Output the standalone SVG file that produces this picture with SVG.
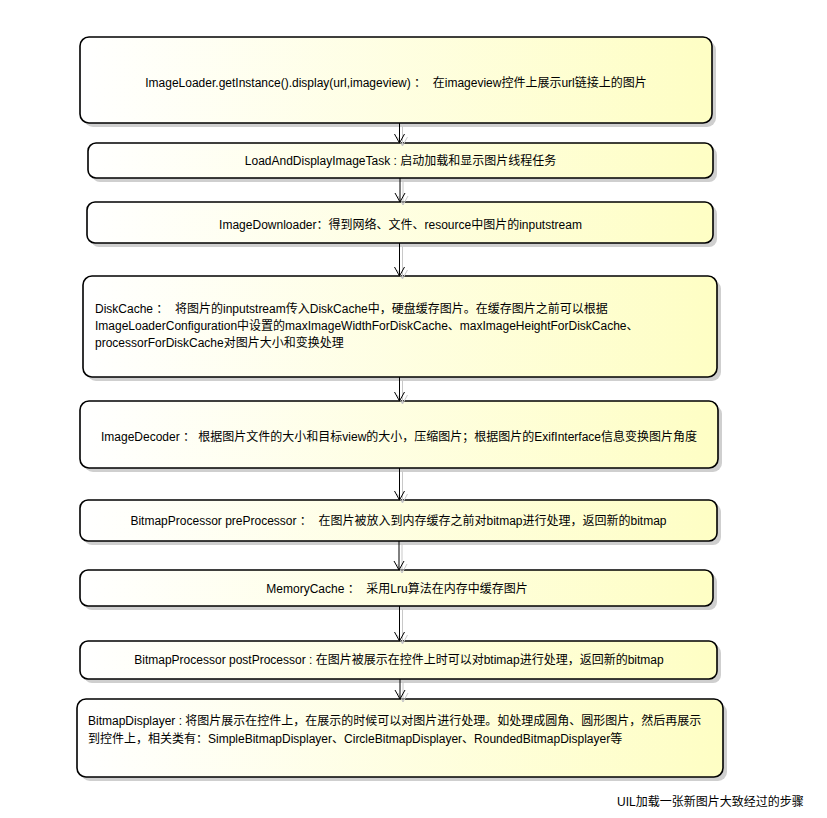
<svg xmlns="http://www.w3.org/2000/svg" width="827" height="818" viewBox="0 0 827 818">
<style>
.box{fill:url(#g);stroke:#000;stroke-width:1.6}
.sh{fill:#cfcfcf}
text{font-family:"Liberation Sans","Noto Sans CJK SC",sans-serif;font-size:12px;fill:#000}
.c{text-anchor:middle}
.ln{stroke:#000;stroke-width:1;fill:none}
.ls{stroke:#c8c8c8;stroke-width:1;fill:none}
</style>
<defs>
<linearGradient id="g" x1="0" y1="0" x2="1" y2="0">
<stop offset="0" stop-color="#ffffff"/>
<stop offset="1" stop-color="#fefec4"/>
</linearGradient>
</defs>
<rect width="827" height="818" fill="#fff"/>
<g id="n1"><rect class="sh" x="84" y="41" width="632" height="86" rx="9"/><rect class="box" x="80" y="37" width="632" height="86" rx="9"/><text class="c" x="396" y="87" xml:space="preserve">ImageLoader.getInstance().display(url,imageview) ：  在imageview控件上展示url链接上的图片</text></g>
<g id="n2"><rect class="sh" x="92" y="147" width="625" height="35" rx="8"/><rect class="box" x="88" y="143" width="625" height="35" rx="8"/><text class="c" x="400.5" y="165">LoadAndDisplayImageTask : 启动加载和显示图片线程任务</text></g>
<g id="n3"><rect class="sh" x="91" y="206" width="626" height="41" rx="8"/><rect class="box" x="87" y="202" width="626" height="41" rx="8"/><text class="c" x="400.5" y="229">ImageDownloader：得到网络、文件、resource中图片的inputstream</text></g>
<g id="n4"><rect class="sh" x="87" y="280" width="634" height="101" rx="9"/><rect class="box" x="83" y="276" width="634" height="101" rx="9"/><text x="95" y="313" xml:space="preserve">DiskCache ：  将图片的inputstream传入DiskCache中，硬盘缓存图片。在缓存图片之前可以根据</text><text x="95" y="330">ImageLoaderConfiguration中设置的maxImageWidthForDiskCache、maxImageHeightForDiskCache、</text><text x="95" y="347">processorForDiskCache对图片大小和变换处理</text></g>
<g id="n5"><rect class="sh" x="84" y="405" width="638" height="67" rx="9"/><rect class="box" x="80" y="401" width="638" height="67" rx="9"/><text class="c" x="399" y="441" xml:space="preserve">ImageDecoder ： 根据图片文件的大小和目标view的大小，压缩图片；根据图片的ExifInterface信息变换图片角度</text></g>
<g id="n6"><rect class="sh" x="84" y="504" width="637" height="41" rx="8"/><rect class="box" x="80" y="500" width="637" height="41" rx="8"/><text class="c" x="398.5" y="525" xml:space="preserve">BitmapProcessor preProcessor ：  在图片被放入到内存缓存之前对bitmap进行处理，返回新的bitmap</text></g>
<g id="n7"><rect class="sh" x="84" y="574" width="633" height="36" rx="8"/><rect class="box" x="80" y="570" width="633" height="36" rx="8"/><text class="c" x="397" y="593" xml:space="preserve">MemoryCache ：  采用Lru算法在内存中缓存图片</text></g>
<g id="n8"><rect class="sh" x="84" y="645" width="637" height="38" rx="8"/><rect class="box" x="80" y="641" width="637" height="38" rx="8"/><text class="c" x="399" y="664">BitmapProcessor postProcessor : 在图片被展示在控件上时可以对btimap进行处理，返回新的bitmap</text></g>
<g id="n9"><rect class="sh" x="81" y="703" width="646" height="78" rx="9"/><rect class="box" x="77" y="699" width="646" height="78" rx="9"/><text x="88" y="725">BitmapDisplayer : 将图片展示在控件上，在展示的时候可以对图片进行处理。如处理成圆角、圆形图片，然后再展示</text><text x="88" y="743">到控件上，相关类有：SimpleBitmapDisplayer、CircleBitmapDisplayer、RoundedBitmapDisplayer等</text></g>
<g id="caption"><text x="617" y="806">UIL加载一张新图片大致经过的步骤</text></g>
<g id="connectors">
<path class="ls" d="M402.5 126V146M397.5 137L402.5 146L407.5 137"/>
<path class="ln" d="M399.5 123V143M394.5 134L399.5 143L404.5 134"/>
<path class="ls" d="M403 181V205M398 196L403 205L408 196"/>
<path class="ln" d="M400 178V202M395 193L400 202L405 193"/>
<path class="ls" d="M402.5 246V279M397.5 270L402.5 279L407.5 270"/>
<path class="ln" d="M399.5 243V276M394.5 267L399.5 276L404.5 267"/>
<path class="ls" d="M402.5 380V404M397.5 395L402.5 404L407.5 395"/>
<path class="ln" d="M399.5 377V401M394.5 392L399.5 401L404.5 392"/>
<path class="ls" d="M402.5 471V503M397.5 494L402.5 503L407.5 494"/>
<path class="ln" d="M399.5 468V500M394.5 491L399.5 500L404.5 491"/>
<path class="ls" d="M402 544V573M397 564L402 573L407 564"/>
<path class="ln" d="M399 541V570M394 561L399 570L404 561"/>
<path class="ls" d="M402.5 609V644M397.5 635L402.5 644L407.5 635"/>
<path class="ln" d="M399.5 606V641M394.5 632L399.5 641L404.5 632"/>
<path class="ls" d="M403 682V702M398 693L403 702L408 693"/>
<path class="ln" d="M400 679V699M395 690L400 699L405 690"/>
</g>
</svg>
